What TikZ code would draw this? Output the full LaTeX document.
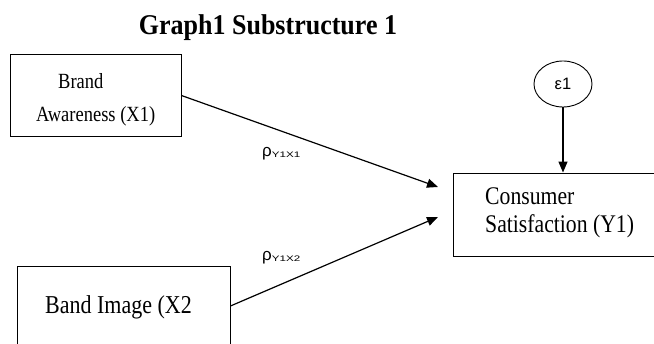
\documentclass[tikz,border=0pt]{standalone}
\usepackage{graphicx}
\usepackage{fontspec}
\setmainfont{Liberation Serif}
\newfontfamily\lsans{Liberation Sans}
\newcommand\talltxt[1]{\scalebox{1}[1.17]{#1}}
\newcommand\widesub[1]{\scalebox{1.45}[1]{\fontsize{8}{9}\selectfont #1}}
\usetikzlibrary{arrows.meta,shapes.geometric}
\begin{document}
\begin{tikzpicture}[x=1pt,y=-1pt,
  box/.style={draw,line width=0.9pt,rectangle,inner sep=0pt},
  txt/.style={inner sep=0pt,anchor=base west},
  path/.style={line width=1.2pt,-{Triangle[length=11pt,width=9pt]}},
  lab/.style={inner sep=0pt,anchor=base west,font=\lsans\fontsize{17}{18}\selectfont}]
\useasboundingbox (0,0) rectangle (654,344);
\fill[white] (0,0) rectangle (654,344);
% title
\node[inner sep=0pt,anchor=base] (title) at (268,35) {\scalebox{1}[1.1]{\fontsize{26}{30}\selectfont\bfseries Graph1 Substructure 1}};
% boxes
\node[box,minimum width=171pt,minimum height=82pt] (x1) at (95.5,95.5) {};
\node[box,minimum width=213pt,minimum height=80pt] (x2) at (123.5,306) {};
\node[box,minimum width=205pt,minimum height=83pt] (y1) at (555.5,214.5) {};
\node[draw,line width=0.9pt,ellipse,minimum width=58pt,minimum height=46pt,inner sep=0pt] (e1) at (563,84) {\lsans\fontsize{16.5}{18}\selectfont ε1};
% texts
\node[txt,font=\fontsize{18.5}{22}\selectfont] (x1a) at (58,89) {\talltxt{Brand}};
\node[txt,font=\fontsize{18.5}{22}\selectfont] (x1b) at (36,122) {\talltxt{Awareness (X1)}};
\node[txt,font=\fontsize{22}{26}\selectfont] (x2a) at (45,314) {\talltxt{Band Image (X2}};
\node[txt,font=\fontsize{21.7}{26}\selectfont] (y1a) at (485,205) {\talltxt{Consumer}};
\node[txt,font=\fontsize{21.7}{26}\selectfont] (y1b) at (485,233) {\talltxt{Satisfaction (Y1)}};
% connectors
\coordinate (t1) at (438,187);
\coordinate (t2) at (438,217);
\draw[path] (x1.east) -- (t1);
\draw[path] (x2.east) -- (t2);
\draw[path] (e1.south) -- (y1.north -| e1.south);
% labels
\node[lab] (p1) at (262,157) {ρ\raisebox{-0.5pt}{\widesub{Y1X1}}};
\node[lab] (p2) at (262,261) {ρ\raisebox{-0.5pt}{\widesub{Y1X2}}};
\end{tikzpicture}
\end{document}
